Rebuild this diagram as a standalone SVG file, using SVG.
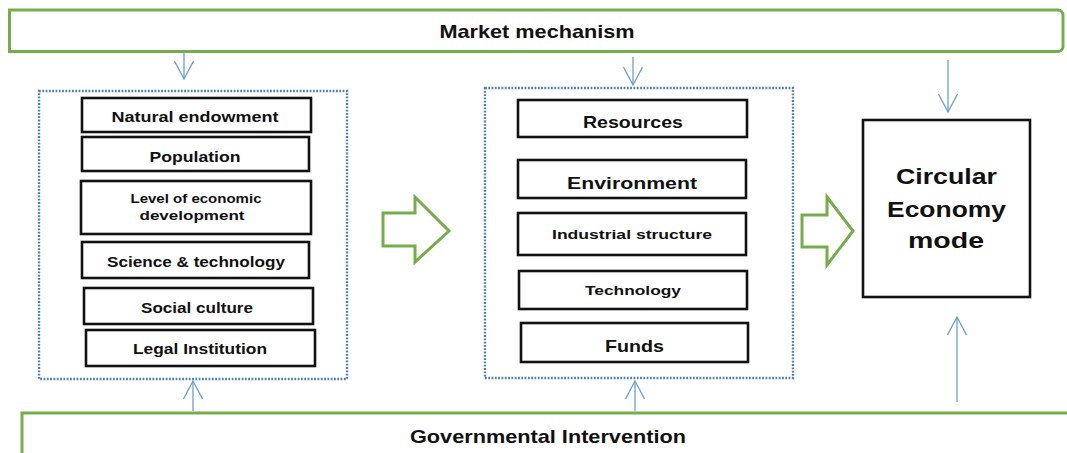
<svg xmlns="http://www.w3.org/2000/svg" width="1067" height="453" viewBox="0 0 1067 453">
  <style>
    .band { fill: #ffffff; stroke: #74ad4a; stroke-width: 3; }
    .group { fill: none; stroke: #4f7db3; stroke-width: 2.4; stroke-dasharray: 1.8 1.5; }
    .box { fill: #ffffff; stroke: #111111; stroke-width: 2.6; }
    .block { fill: #ffffff; stroke: #74ad4a; stroke-width: 3; stroke-linejoin: miter; }
    .flow { fill: none; stroke: #6a9fd6; stroke-width: 1.3; }
    text { font-family: "Liberation Sans", Arial, sans-serif; font-weight: bold; fill: #111111; text-anchor: middle; }
  </style>
  <defs>
    <marker id="vhead" viewBox="0 0 20 20" refX="19" refY="10" markerWidth="20" markerHeight="20" markerUnits="userSpaceOnUse" orient="auto">
      <path d="M1,0.5 L19,10 L1,19.5" fill="none" stroke="#6a9fd6" stroke-width="1.3"/>
    </marker>
  </defs>

  <!-- top band -->
  <g id="market">
    <path class="band" d="M9.5,10 H1058 a5,5 0 0 1 5,5 V46.5 a5,5 0 0 1 -5,5 H9.5 Z"/>
    <text x="537" y="38" font-size="19" textLength="195" lengthAdjust="spacingAndGlyphs">Market mechanism</text>
  </g>

  <!-- bottom band -->
  <g id="government">
    <rect class="band" x="22" y="413" width="1060" height="60"/>
    <text x="548" y="443" font-size="19" textLength="276" lengthAdjust="spacingAndGlyphs">Governmental Intervention</text>
  </g>

  <!-- left group of factors -->
  <g id="factors">
    <rect class="group" x="39" y="91" width="308" height="288"/>
    <g id="natural-endowment">
      <rect class="box" x="82" y="98" width="229" height="34"/>
      <text x="195" y="122" font-size="14" textLength="167" lengthAdjust="spacingAndGlyphs">Natural endowment</text>
    </g>
    <g id="population">
      <rect class="box" x="82" y="137" width="227" height="34"/>
      <text x="195" y="162" font-size="14" textLength="91" lengthAdjust="spacingAndGlyphs">Population</text>
    </g>
    <g id="economic-development">
      <rect class="box" x="81" y="181" width="230" height="53"/>
      <text x="196" y="203" font-size="12.5" textLength="131" lengthAdjust="spacingAndGlyphs">Level of economic</text>
      <text x="192" y="220" font-size="12.5" textLength="105" lengthAdjust="spacingAndGlyphs">development</text>
    </g>
    <g id="science-technology">
      <rect class="box" x="82" y="242" width="227" height="36"/>
      <text x="196" y="266.5" font-size="15" textLength="178" lengthAdjust="spacingAndGlyphs">Science &amp; technology</text>
    </g>
    <g id="social-culture">
      <rect class="box" x="84" y="288" width="229" height="36"/>
      <text x="197" y="312.5" font-size="14.5" textLength="112" lengthAdjust="spacingAndGlyphs">Social culture</text>
    </g>
    <g id="legal-institution">
      <rect class="box" x="86" y="330" width="229" height="36"/>
      <text x="200" y="354" font-size="14.5" textLength="134" lengthAdjust="spacingAndGlyphs">Legal Institution</text>
    </g>
  </g>

  <!-- middle group of elements -->
  <g id="elements">
    <rect class="group" x="485" y="88" width="308" height="290"/>
    <g id="resources">
      <rect class="box" x="518" y="100" width="229" height="37"/>
      <text x="633" y="128" font-size="16.5" textLength="100" lengthAdjust="spacingAndGlyphs">Resources</text>
    </g>
    <g id="environment">
      <rect class="box" x="518" y="160" width="228" height="38"/>
      <text x="632" y="189" font-size="16.5" textLength="130" lengthAdjust="spacingAndGlyphs">Environment</text>
    </g>
    <g id="industrial-structure">
      <rect class="box" x="518" y="213" width="228" height="42"/>
      <text x="632" y="239" font-size="13.5" textLength="160" lengthAdjust="spacingAndGlyphs">Industrial structure</text>
    </g>
    <g id="technology">
      <rect class="box" x="519" y="271" width="228" height="38"/>
      <text x="633" y="295" font-size="13.5" textLength="96" lengthAdjust="spacingAndGlyphs">Technology</text>
    </g>
    <g id="funds">
      <rect class="box" x="521" y="323" width="227" height="39"/>
      <text x="634.5" y="351.5" font-size="16.5" textLength="59" lengthAdjust="spacingAndGlyphs">Funds</text>
    </g>
  </g>

  <!-- outcome -->
  <g id="circular-economy">
    <rect class="box" x="863" y="120" width="167" height="177"/>
    <text x="946.5" y="183.5" font-size="22" textLength="101" lengthAdjust="spacingAndGlyphs">Circular</text>
    <text x="946.5" y="216.5" font-size="22" textLength="119" lengthAdjust="spacingAndGlyphs">Economy</text>
    <text x="946" y="248" font-size="22" textLength="76" lengthAdjust="spacingAndGlyphs">mode</text>
  </g>

  <!-- connectors -->
  <g id="connectors">
    <!-- block arrows between stages -->
    <path class="block" d="M383,213 H415 V197 L449,231 L415,262 V246 H383 Z"/>
    <path class="block" d="M802,215 H827 V197 L853,231 L827,265 V247 H802 Z"/>
    <!-- market influence -->
    <line class="flow" x1="184" y1="52" x2="184" y2="79" marker-end="url(#vhead)"/>
    <line class="flow" x1="633" y1="57" x2="633" y2="85" marker-end="url(#vhead)"/>
    <line class="flow" x1="948" y1="60" x2="948" y2="112" marker-end="url(#vhead)"/>
    <!-- government influence -->
    <line class="flow" x1="193" y1="411" x2="193" y2="381" marker-end="url(#vhead)"/>
    <line class="flow" x1="635" y1="411" x2="635" y2="381" marker-end="url(#vhead)"/>
    <line class="flow" x1="957" y1="402" x2="957" y2="317" marker-end="url(#vhead)"/>
  </g>
</svg>
